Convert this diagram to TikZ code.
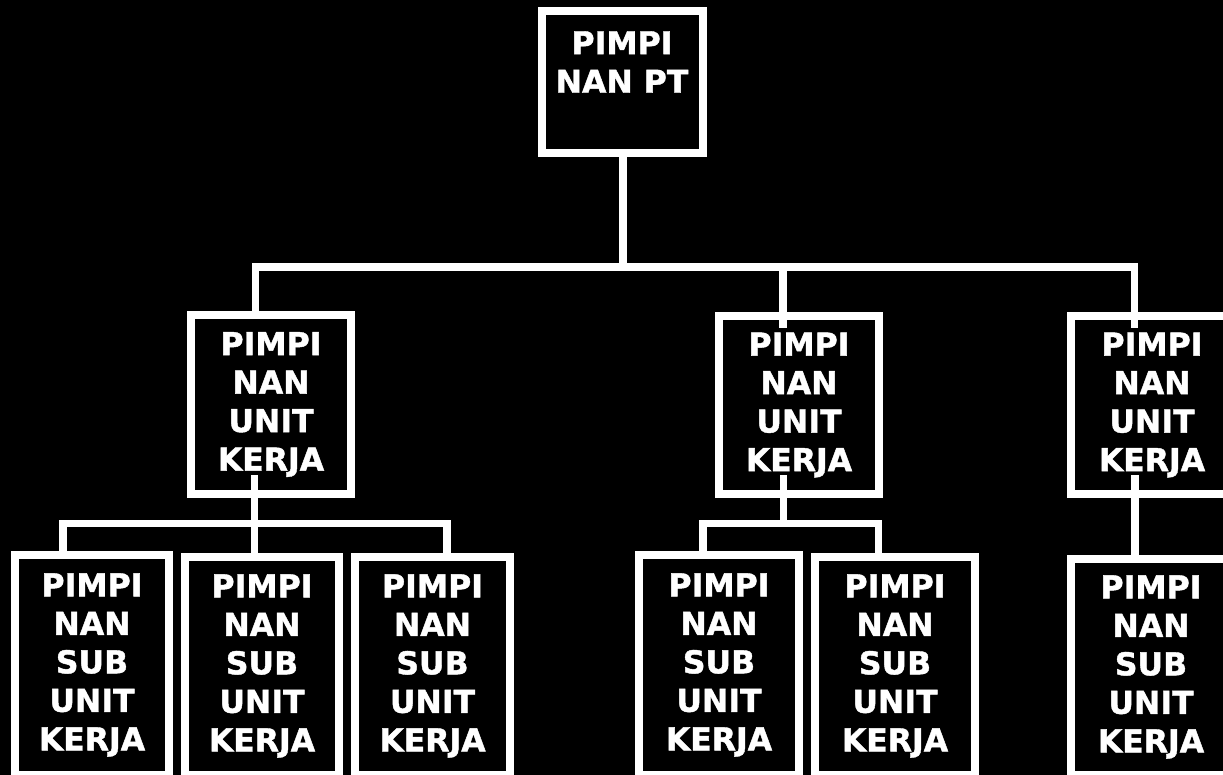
\documentclass[tikz,border=0pt]{standalone}
\usepackage{fontspec}
\setmainfont{DejaVu Sans}[BoldFeatures={FakeBold=1.3}]
\begin{document}
\begin{tikzpicture}[x=1pt,y=-1pt,
  txtfont/.style={font=\fontsize{31.5}{38.5}\selectfont\bfseries},
  box/.style={draw=white, fill=black, line width=8pt, inner sep=0pt, align=center, text=white, txtfont},
  txt/.style={inner sep=0pt, align=center, text=white, txtfont},
  conn/.style={draw=white, line width=7.5pt, line join=miter}]
\fill[black] (0,0) rectangle (1223,775);
\useasboundingbox (0,0) rectangle (1223,775);

% top
\node[box, minimum width=161pt, minimum height=142pt] (pt) at (622.5,82) {};
\node[txt] (ptt) at (622,62) {PIMPI\\NAN PT};

% units
\node[box, minimum width=160pt, minimum height=179pt] (u1) at (271,404.5) {PIMPI\\NAN\\UNIT\\KERJA};
\node[box, minimum width=160pt, minimum height=178pt] (u2) at (799,405) {PIMPI\\NAN\\UNIT\\KERJA};
\node[box, minimum width=162pt, minimum height=178pt] (u3) at (1152,405) {PIMPI\\NAN\\UNIT\\KERJA};

% sub units
\node[box, minimum width=154pt, minimum height=220pt] (s1) at (92,665) {PIMPI\\NAN\\SUB\\UNIT\\KERJA};
\node[box, minimum width=154pt, minimum height=218pt] (s2) at (262,666) {PIMPI\\NAN\\SUB\\UNIT\\KERJA};
\node[box, minimum width=155pt, minimum height=218pt] (s3) at (432.5,666) {PIMPI\\NAN\\SUB\\UNIT\\KERJA};
\node[box, minimum width=160pt, minimum height=220pt] (s4) at (719,665) {PIMPI\\NAN\\SUB\\UNIT\\KERJA};
\node[box, minimum width=160pt, minimum height=218pt] (s5) at (895,666) {PIMPI\\NAN\\SUB\\UNIT\\KERJA};
\node[box, minimum width=160pt, minimum height=216pt] (s6) at (1151,667) {PIMPI\\NAN\\SUB\\UNIT\\KERJA};

% connectors: top level
\coordinate (b0) at (623,267);
\coordinate (bl) at (255.5,267);
\coordinate (bm) at (783,267);
\coordinate (br) at (1134.5,267);
\coordinate (u2in) at (783,328);
\coordinate (u3in) at (1134.5,328);
\draw[conn] (pt.south -| b0) -- (b0);
\draw[conn] (u1.north -| bl) -- (bl) -- (br) -- (u3in);
\draw[conn] (bm) -- (u2in);

% unit 1 children
\coordinate (u1out) at (254.5,475);
\coordinate (k1l) at (63,523.5);
\coordinate (k1r) at (447,523.5);
\draw[conn] (u1out) -- (s2.north -| u1out);
\draw[conn] (s1.north -| k1l) -- (k1l) -- (k1r) -- (s3.north -| k1r);

% unit 2 children
\coordinate (u2out) at (783.5,475);
\coordinate (k2l) at (703,523.5);
\coordinate (k2r) at (878.5,523.5);
\draw[conn] (u2out) -- (u2out |- k2l);
\draw[conn] (s4.north -| k2l) -- (k2l) -- (k2r) -- (s5.north -| k2r);

% unit 3 child
\coordinate (u3out) at (1135,475);
\draw[conn] (u3out) -- (s6.north -| u3out);
\end{tikzpicture}
\end{document}
